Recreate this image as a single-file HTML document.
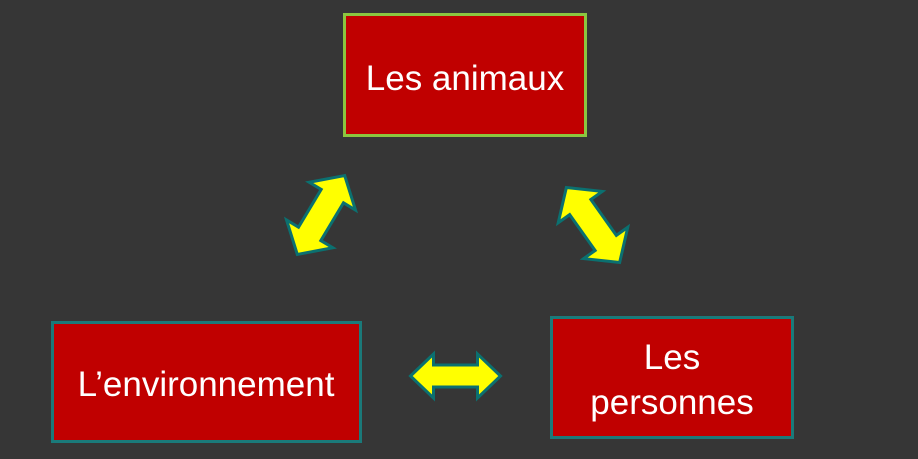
<!DOCTYPE html>
<html><head><style>
html,body{margin:0;padding:0;background:#363636;}
svg{display:block}
text{font-family:"Liberation Sans",sans-serif;fill:#fff;font-size:35px;text-anchor:middle}
</style></head><body>
<svg width="918" height="459" viewBox="0 0 918 459">
<rect width="918" height="459" fill="#363636"/>
<rect x="344.5" y="14.5" width="241" height="121" fill="#c00000" stroke="#8cc63f" stroke-width="3"/>
<text x="465" y="90">Les animaux</text>
<rect x="52.5" y="322.5" width="308" height="119" fill="#c00000" stroke="#1a7a7a" stroke-width="3"/>
<text x="206" y="396">L’environnement</text>
<rect x="551.5" y="317.5" width="241" height="120" fill="#c00000" stroke="#1a7a7a" stroke-width="3"/>
<text x="672" y="369">Les</text>
<text x="672" y="414">personnes</text>
<defs>
<polygon id="da" points="-45,0 -22,-22 -22,-11 22,-11 22,-22 45,0 22,22 22,11 -22,11 -22,22" fill="#ffff00" stroke="#0b7070" stroke-width="3" stroke-linejoin="miter"/>
<polygon id="db" points="-46,0 -22,-27 -22,-13 22,-13 22,-27 46,0 22,27 22,13 -22,13 -22,27" fill="#ffff00" stroke="#0b7070" stroke-width="3" stroke-linejoin="miter"/>
</defs>
<use href="#da" transform="translate(455.5,376)"/>
<use href="#db" transform="translate(321,215) rotate(-59)"/>
<use href="#db" transform="translate(593,225) rotate(54.6)"/>
</svg>
</body></html>
